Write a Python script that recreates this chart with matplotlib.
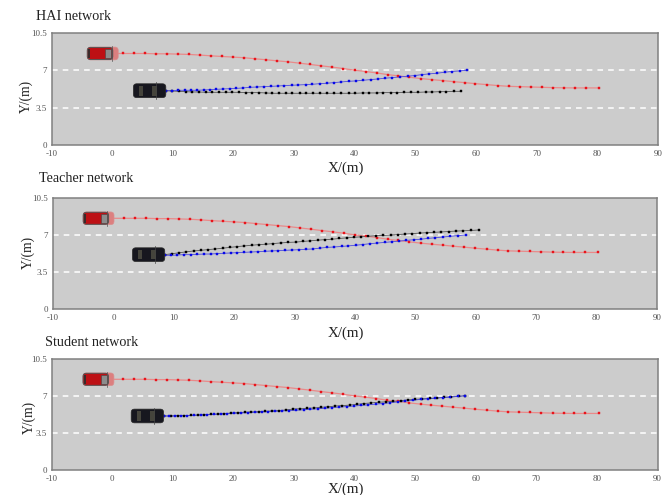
import matplotlib
matplotlib.use('Agg')
import matplotlib.pyplot as plt
from matplotlib.patches import FancyBboxPatch, Rectangle

plt.rcParams['font.family'] = ['Liberation Serif', 'DejaVu Serif']
plt.rcParams['axes.unicode_minus'] = False

W, H = 667, 495

panel_names = ['HAI network', 'Teacher network', 'Student network']
x_ticks = [-10, 0, 10, 20, 30, 40, 50, 60, 70, 80, 90]
y_ticks = [0, 3.5, 7, 10.5]

red_x = [1.8, 3.6, 5.4, 7.2, 9.1, 10.9, 12.7, 14.5, 16.3, 18.1, 20.0, 21.8, 23.6, 25.4, 27.2,
         29.0, 30.9, 32.7, 34.5, 36.3, 38.1, 40.0, 41.8, 43.6, 45.4, 47.2, 49.0, 50.9, 52.7,
         54.5, 56.3, 58.1, 59.9, 61.8, 63.6, 65.4, 67.2, 69.0, 70.8, 72.7, 74.5, 76.3, 78.1, 80.3]
red_y = [8.58, 8.58, 8.58, 8.55, 8.55, 8.52, 8.49, 8.43, 8.36, 8.30, 8.24, 8.18, 8.08, 7.99, 7.89,
         7.80, 7.67, 7.55, 7.42, 7.30, 7.17, 7.01, 6.89, 6.76, 6.60, 6.48, 6.35, 6.23, 6.13,
         6.04, 5.94, 5.85, 5.75, 5.66, 5.57, 5.50, 5.47, 5.44, 5.41, 5.38, 5.36, 5.35, 5.35, 5.35]

hai_blue_x = [8.85, 9.9, 10.9, 12.0, 13.0, 14.0, 15.1, 16.1, 17.2, 18.3, 19.4, 20.5, 21.6, 22.8, 23.9,
              25.1, 26.2, 27.3, 28.4, 29.6, 30.7, 31.9, 33.0, 34.2, 35.4, 36.6, 37.8, 39.0, 40.2, 41.4,
              42.6, 43.8, 45.0, 46.2, 47.4, 48.7, 49.9, 51.1, 52.3, 53.6, 54.8, 56.0, 57.3, 58.5]
hai_blue_y = [5.09, 5.09, 5.13, 5.13, 5.13, 5.13, 5.16, 5.19, 5.22, 5.25, 5.28, 5.31, 5.35, 5.41, 5.44,
              5.47, 5.50, 5.53, 5.57, 5.60, 5.63, 5.66, 5.69, 5.75, 5.79, 5.85, 5.91, 5.97, 6.01, 6.07,
              6.13, 6.19, 6.26, 6.32, 6.38, 6.45, 6.51, 6.60, 6.67, 6.73, 6.82, 6.89, 6.95, 7.01]
hai_black_x = [8.85, 9.9, 11.0, 12.1, 13.2, 14.3, 15.4, 16.5, 17.6, 18.7, 19.8, 20.9, 22.0, 23.1, 24.2,
               25.3, 26.4, 27.5, 28.6, 29.7, 30.9, 32.0, 33.1, 34.3, 35.4, 36.6, 37.8, 39.0, 40.1, 41.3,
               42.4, 43.6, 44.7, 45.9, 47.0, 48.2, 49.3, 50.5, 51.7, 52.8, 54.0, 55.1, 56.3, 57.5]
hai_black_y = [5.09, 5.06, 5.03, 5.0, 4.97, 4.97, 4.94, 4.94, 4.94, 4.94, 4.94, 4.94, 4.91, 4.91, 4.91,
               4.88, 4.85, 4.85, 4.85, 4.85, 4.85, 4.85, 4.85, 4.85, 4.85, 4.85, 4.85, 4.85, 4.85, 4.88,
               4.88, 4.88, 4.91, 4.91, 4.91, 4.94, 4.94, 4.94, 4.97, 4.97, 5.0, 5.0, 5.03, 5.03]

teacher_blue_x = [8.5, 9.6, 10.6, 11.7, 12.8, 13.9, 15.0, 16.1, 17.2, 18.3, 19.4, 20.5, 21.6, 22.8, 23.9,
                  25.1, 26.2, 27.3, 28.4, 29.6, 30.7, 31.9, 33.0, 34.2, 35.4, 36.6, 37.8, 38.9, 40.1, 41.3,
                  42.5, 43.7, 44.9, 46.1, 47.3, 48.5, 49.7, 50.9, 52.1, 53.3, 54.6, 55.8, 57.0, 58.3]
teacher_blue_y = [5.08, 5.08, 5.11, 5.14, 5.14, 5.17, 5.2, 5.2, 5.24, 5.27, 5.3, 5.33, 5.36, 5.39, 5.42,
                  5.46, 5.49, 5.52, 5.55, 5.58, 5.61, 5.65, 5.68, 5.76, 5.83, 5.87, 5.92, 5.97, 6.03, 6.1,
                  6.18, 6.24, 6.3, 6.36, 6.42, 6.49, 6.55, 6.6, 6.68, 6.74, 6.81, 6.88, 6.94, 7.0]
teacher_black_x = [8.5, 9.7, 10.9, 12.1, 13.3, 14.5, 15.7, 16.9, 18.1, 19.3, 20.5, 21.7, 22.9, 24.1, 25.3,
                   26.5, 27.7, 28.9, 30.2, 31.4, 32.6, 33.8, 35.0, 36.2, 37.4, 38.6, 39.8, 41.0, 42.2, 43.4,
                   44.7, 45.9, 47.1, 48.3, 49.5, 50.7, 51.9, 53.1, 54.3, 55.5, 56.7, 57.9, 59.2, 60.6]
teacher_black_y = [5.14, 5.23, 5.32, 5.41, 5.49, 5.55, 5.62, 5.68, 5.75, 5.83, 5.90, 5.97, 6.03, 6.09, 6.13,
                   6.19, 6.25, 6.30, 6.33, 6.39, 6.45, 6.51, 6.56, 6.60, 6.67, 6.73, 6.78, 6.83, 6.88, 6.93,
                   6.96, 6.99, 7.04, 7.09, 7.13, 7.18, 7.22, 7.25, 7.29, 7.33, 7.37, 7.40, 7.43, 7.48]

student_blue_x = [8.6, 9.4, 10.4, 11.4, 12.4, 13.5, 14.6, 15.7, 16.8, 17.9, 19.0, 20.1, 21.2, 22.4, 23.5,
                  24.7, 25.8, 26.9, 28.1, 29.2, 30.4, 31.6, 32.7, 33.9, 35.1, 36.3, 37.5, 38.7, 39.9, 41.1,
                  42.3, 43.5, 44.7, 45.9, 47.2, 48.4, 49.7, 50.9, 52.1, 53.3, 54.6, 55.8, 57.0, 58.3]
student_blue_y = [5.11, 5.11, 5.11, 5.14, 5.14, 5.17, 5.2, 5.23, 5.26, 5.29, 5.33, 5.36, 5.39, 5.42, 5.45,
                  5.49, 5.52, 5.55, 5.59, 5.62, 5.65, 5.7, 5.74, 5.79, 5.84, 5.9, 5.95, 6.0, 6.05, 6.11,
                  6.17, 6.23, 6.29, 6.36, 6.45, 6.52, 6.6, 6.68, 6.73, 6.79, 6.85, 6.9, 6.96, 7.03]
student_black_x = [8.6, 9.7, 10.8, 11.9, 13.0, 14.1, 15.2, 16.3, 17.4, 18.5, 19.7, 20.8, 21.9, 23.0, 24.2,
                   25.3, 26.4, 27.6, 28.7, 29.9, 31.0, 32.2, 33.3, 34.5, 35.7, 36.8, 38.0, 39.2, 40.4, 41.6,
                   42.8, 44.0, 45.2, 46.4, 47.6, 48.8, 50.0, 51.2, 52.4, 53.6, 54.8, 56.0, 57.2, 58.3]
student_black_y = [5.11, 5.11, 5.14, 5.14, 5.17, 5.2, 5.23, 5.26, 5.3, 5.33, 5.39, 5.43, 5.46, 5.49, 5.52,
                   5.55, 5.59, 5.62, 5.68, 5.77, 5.79, 5.83, 5.87, 5.93, 5.98, 6.05, 6.09, 6.14, 6.21, 6.29,
                   6.35, 6.41, 6.45, 6.49, 6.56, 6.63, 6.68, 6.73, 6.77, 6.81, 6.87, 6.92, 6.97, 7.03]

blue_x = [hai_blue_x, teacher_blue_x, student_blue_x]
blue_y = [hai_blue_y, teacher_blue_y, student_blue_y]
black_x = [hai_black_x, teacher_black_x, student_black_x]
black_y = [hai_black_y, teacher_black_y, student_black_y]
# front bumper of each car, metres
red_front = [1.0, 0.1, 0.3]
black_front = [8.85, 8.5, 8.5]

# axes box in pixels: left, top, right, bottom
boxes = [(51.5, 33, 658, 145), (53, 198, 657, 309), (51.5, 359, 657.5, 470)]
titles_px = [(36, 17), (39, 179), (45.5, 342)]
xlabels_px = [(346, 168), (346, 333), (346, 489)]
ylabels_px = [(26, 96), (28, 252), (29, 417)]


def car_body(ax, front, y, length, width, **kw):
    # aspect keeps the corners round on a box that is not 1:1
    p = FancyBboxPatch((front - length, y - width / 2), length, width,
                       boxstyle='round,pad=0,rounding_size=0.55', mutation_aspect=0.57, **kw)
    ax.add_patch(p)
    return p


def draw_red_car(ax, front, y):
    car_body(ax, front, y, 5.1, 1.2, fc='#dc7f7f', ec='#d89090', lw=0.5, zorder=4)
    car_body(ax, front - 0.9, y, 4.2, 1.14, fc='#bd1014', ec='#555555', lw=0.7, zorder=4)
    ax.add_patch(Rectangle((front - 5.0, y - 0.45), 0.35, 0.9, fc='#3a2a2a', ec='none', zorder=5))
    ax.add_patch(Rectangle((front - 2.2, y - 0.42), 1.05, 0.84, fc='#8c8c8c', ec='#444444', lw=0.4, zorder=5))
    ax.plot([front - 1.1] * 2, [y - 0.72, y + 0.72], color='#555555', lw=0.5, zorder=5)


def draw_black_car(ax, front, y):
    car_body(ax, front, y, 5.35, 1.3, fc='#17171f', ec='#2a2a2a', lw=0.5, zorder=4)
    ax.add_patch(Rectangle((front - 4.4, y - 0.45), 0.7, 0.9, fc='#45443c', ec='none', zorder=5))
    ax.add_patch(Rectangle((front - 2.2, y - 0.45), 0.7, 0.9, fc='#45443c', ec='none', zorder=5))
    ax.plot([front - 1.6] * 2, [y - 0.78, y + 0.78], color='#444444', lw=0.5, zorder=5)


fig = plt.figure(figsize=(W / 100, H / 100), dpi=100)

for i, name in enumerate(panel_names):
    l, t, r, b = boxes[i]
    ax = fig.add_axes([l / W, 1 - b / H, (r - l) / W, (b - t) / H])
    ax.set_facecolor('#cccccc')
    ax.set_xlim(-10, 90)
    ax.set_ylim(0, 10.5)
    ax.set_xticks(x_ticks)
    ax.set_yticks(y_ticks)
    ax.set_yticklabels(['0', '3.5', '7', '10.5'])
    ax.tick_params(length=0, labelsize=6.5, labelcolor='#555555', pad=3.5)
    for s in ax.spines.values():
        s.set_color('#808080')
        s.set_linewidth(1.1)

    for lane in [3.5, 7]:
        ax.axhline(lane, color='white', lw=1.1, ls=(0, (3.7, 3.3)), zorder=1)

    ax.plot([red_front[i]] + red_x, [red_y[0]] + red_y, color='#e98a8a', lw=0.9, zorder=2)
    ax.plot(red_x, red_y, ls='none', marker='s', ms=1.6, mew=0.3, color='#e8141c', zorder=3)
    ax.plot(black_x[i], black_y[i], color='#555555', lw=0.6, zorder=2)
    ax.plot(black_x[i], black_y[i], ls='none', marker='s', ms=1.6, mew=0.3, color='black', zorder=3)
    ax.plot(blue_x[i], blue_y[i], color='#4a4ae0', lw=0.6, zorder=2)
    ax.plot(blue_x[i], blue_y[i], ls='none', marker='s', ms=1.6, mew=0.3, color='#0808e8', zorder=3)

    draw_red_car(ax, red_front[i], red_y[0])
    draw_black_car(ax, black_front[i], black_y[i][0])

    fig.text(titles_px[i][0] / W, 1 - titles_px[i][1] / H, name, fontsize=10.2, color='#222222', va='center', ha='left')
    fig.text(xlabels_px[i][0] / W, 1 - xlabels_px[i][1] / H, 'X/(m)', fontsize=10.8, color='#222222', va='center', ha='center')
    fig.text(ylabels_px[i][0] / W, 1 - ylabels_px[i][1] / H, 'Y/(m)', fontsize=9.8, color='#222222', va='center', ha='center', rotation=90)

fig.savefig('out.png', dpi=100)
